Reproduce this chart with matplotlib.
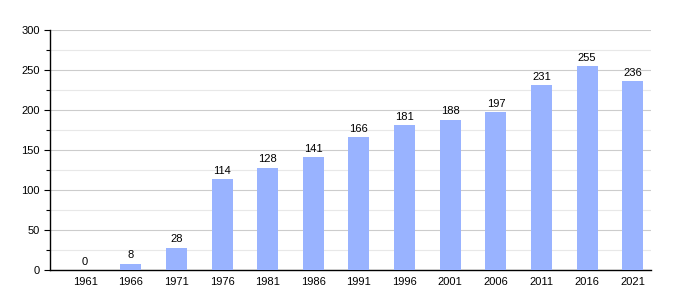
import matplotlib.pyplot as plt
from matplotlib.ticker import MultipleLocator

years = ['1961', '1966', '1971', '1976', '1981', '1986', '1991',
         '1996', '2001', '2006', '2011', '2016', '2021']
population = [0, 8, 28, 114, 128, 141, 166, 181, 188, 197, 231, 255, 236]

plt.rcParams['font.family'] = ['Liberation Sans', 'DejaVu Sans']

fig = plt.figure(figsize=(6.8, 3), dpi=100)
ax = fig.add_axes([50/680, 30/300, 601/680, 240/300])

x = range(len(years))
ax.bar(x, population, width=0.46, color='#99b3ff', zorder=3)
for i, v in zip(x, population):
    ax.text(i, v + 4, str(v), ha='center', va='bottom', fontsize=8, zorder=4)

ax.set_xlim(-0.77, 12.4)
ax.set_ylim(0, 300)
ax.set_xticks(list(x))
ax.set_xticklabels(years)
ax.yaxis.set_major_locator(MultipleLocator(50))
ax.yaxis.set_minor_locator(MultipleLocator(25))
ax.grid(axis='y', which='major', color='#cccccc', linewidth=0.8, zorder=0)
ax.grid(axis='y', which='minor', color='#e8e8e8', linewidth=0.8, zorder=0)

for s in ['top', 'right']:
    ax.spines[s].set_visible(False)
ax.spines['left'].set_linewidth(1)
ax.spines['bottom'].set_linewidth(1)
ax.tick_params(axis='x', length=0, labelsize=8, pad=5)
ax.tick_params(axis='y', which='both', length=4, labelsize=8, width=0.8)
ax.tick_params(axis='y', which='minor', length=3)

fig.savefig('out.png', dpi=100)
